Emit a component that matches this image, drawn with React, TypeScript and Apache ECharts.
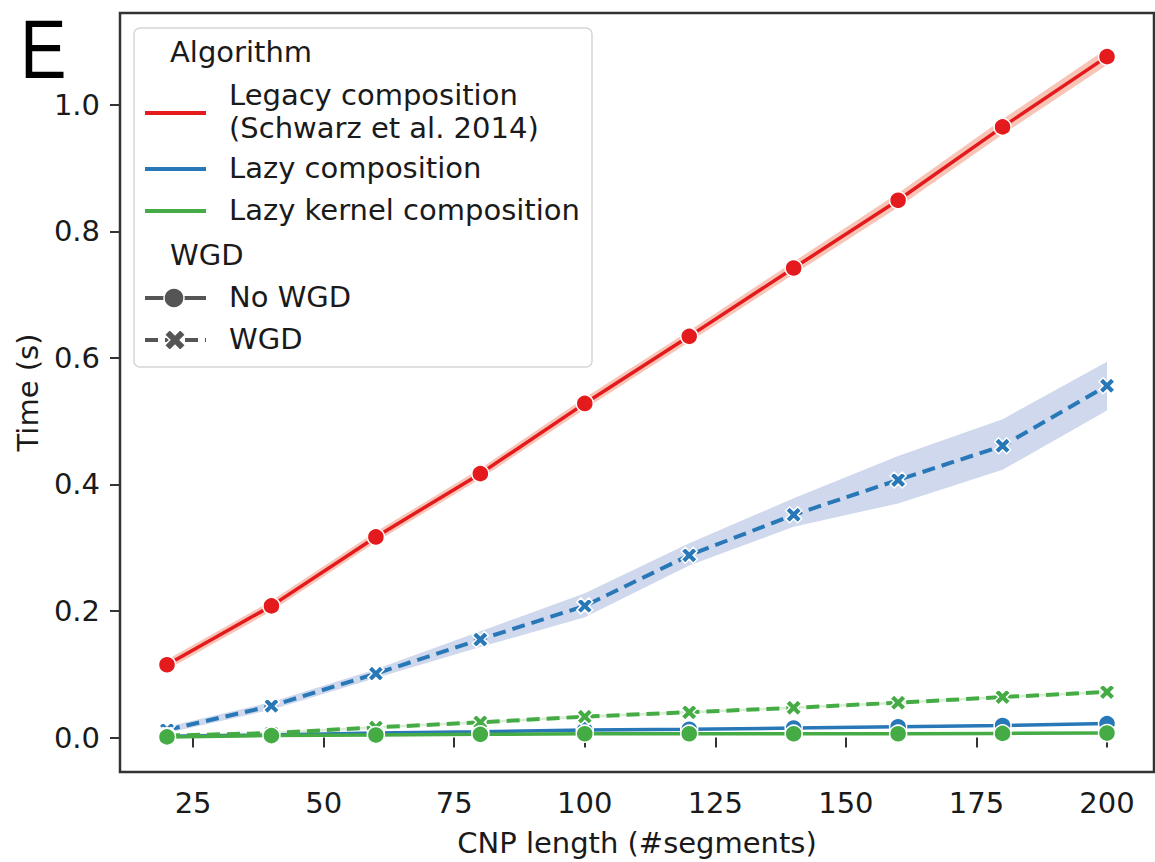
import React, { useEffect, useRef } from "react";
import * as echarts from "echarts";

const X = [20, 40, 60, 80, 100, 120, 140, 160, 180, 200];
const X_TICKS = [25, 50, 75, 100, 125, 150, 175, 200];
const Y_TICKS = [0, 0.2, 0.4, 0.6, 0.8, 1.0];

const legacyNoWGD = [0.115, 0.208, 0.317, 0.417, 0.528, 0.634, 0.742, 0.849, 0.965, 1.076];
const legacyLow = [0.107, 0.2, 0.309, 0.409, 0.519, 0.625, 0.732, 0.838, 0.953, 1.063];
const legacyHigh = [0.123, 0.216, 0.325, 0.425, 0.537, 0.643, 0.752, 0.86, 0.977, 1.089];

const lazyWGD = [0.012, 0.05, 0.101, 0.155, 0.208, 0.288, 0.352, 0.407, 0.461, 0.556];
const lazyWGDLow = [0.007, 0.044, 0.094, 0.143, 0.19, 0.272, 0.333, 0.37, 0.423, 0.517];
const lazyWGDHigh = [0.017, 0.056, 0.108, 0.168, 0.228, 0.307, 0.378, 0.445, 0.503, 0.594];
const lazyNoWGD = [0.002, 0.004, 0.007, 0.009, 0.012, 0.013, 0.015, 0.017, 0.019, 0.022];

const kernelWGD = [0.003, 0.007, 0.016, 0.024, 0.033, 0.04, 0.047, 0.055, 0.064, 0.072];
const kernelWGDLow = [0.001, 0.005, 0.014, 0.022, 0.031, 0.038, 0.045, 0.053, 0.062, 0.07];
const kernelWGDHigh = [0.005, 0.009, 0.018, 0.026, 0.035, 0.042, 0.049, 0.057, 0.066, 0.074];
const kernelNoWGD = [0.001, 0.003, 0.004, 0.005, 0.006, 0.006, 0.006, 0.006, 0.0065, 0.007];

const RED = "#e41a1c";
const BLUE = "#2878b8";
const GREEN = "#45ab45";
const FONT = '"DejaVu Sans", sans-serif';
const X_PATH = "path://M2.5 0L5 2.5L7.5 0L10 2.5L7.5 5L10 7.5L7.5 10L5 7.5L2.5 10L0 7.5L2.5 5L0 2.5Z";

function pairs(ys: number[]) {
  return X.map((x, i) => [x, ys[i]]);
}

function band(lo: number[], hi: number[], fill: string) {
  return {
    type: "custom",
    silent: true,
    z: 1,
    data: [[X[0], lo[0]]],
    renderItem: (_p: any, api: any) => {
      const pts: number[][] = [];
      for (let i = 0; i < X.length; i++) pts.push(api.coord([X[i], hi[i]]));
      for (let i = X.length - 1; i >= 0; i--) pts.push(api.coord([X[i], lo[i]]));
      return { type: "polygon", shape: { points: pts }, style: { fill } };
    },
  };
}

function lineSeries(ys: number[], color: string, dashed: boolean, z: number) {
  return {
    type: "line",
    data: pairs(ys),
    z,
    symbol: dashed ? X_PATH : "circle",
    symbolSize: dashed ? 16 : 17,
    showAllSymbol: true,
    lineStyle: { color, width: dashed ? 4 : 3.5, type: dashed ? [13, 7] : "solid" },
    itemStyle: { color, borderColor: "#ffffff", borderWidth: 1.5 },
  };
}

function xMarkerPoints(cx: number, cy: number, s: number) {
  const base = [[2.5, 0], [5, 2.5], [7.5, 0], [10, 2.5], [7.5, 5], [10, 7.5], [7.5, 10], [5, 7.5], [2.5, 10], [0, 7.5], [2.5, 5], [0, 2.5]];
  return base.map(([a, b]) => [cx + (a - 5) * s, cy + (b - 5) * s]);
}

export default function App() {
  const ref = useRef<HTMLDivElement>(null);
  useEffect(() => {
    if (!ref.current) return;
    const chart = echarts.init(ref.current, undefined, { renderer: "svg" });
    const txt = { fontFamily: FONT, fontSize: 29, fill: "#1a1a1a", verticalAlign: "middle" };
    chart.setOption({
      animation: false,
      backgroundColor: "#ffffff",
      grid: {
        left: 120,
        top: 13,
        width: 1034,
        height: 759,
        show: true,
        borderColor: "#333333",
        borderWidth: 2.5,
        backgroundColor: "transparent",
      },
      xAxis: {
        type: "value",
        min: 11,
        max: 209,
        name: "CNP length (#segments)",
        nameLocation: "middle",
        nameGap: 56,
        nameTextStyle: { fontFamily: FONT, fontSize: 29, color: "#1a1a1a" },
        axisLine: { show: false },
        splitLine: { show: false },
        axisTick: { show: true, length: 10, customValues: X_TICKS, lineStyle: { color: "#333", width: 2 } },
        axisLabel: {
          customValues: X_TICKS,
          fontFamily: FONT,
          fontSize: 29,
          color: "#1a1a1a",
          margin: 16,
          formatter: (v: number) => String(Math.round(v)),
        },
      },
      yAxis: {
        type: "value",
        min: -0.0545,
        max: 1.145,
        name: "Time (s)",
        nameLocation: "middle",
        nameRotate: 90,
        nameGap: 76,
        nameTextStyle: { fontFamily: FONT, fontSize: 29, color: "#1a1a1a" },
        axisLine: { show: false },
        splitLine: { show: false },
        axisTick: { show: true, length: 10, customValues: Y_TICKS, lineStyle: { color: "#333", width: 2 } },
        axisLabel: {
          customValues: Y_TICKS,
          fontFamily: FONT,
          fontSize: 29,
          color: "#1a1a1a",
          margin: 20,
          formatter: (v: number) => v.toFixed(1),
        },
      },
      series: [
        band(legacyLow, legacyHigh, "#f7c4b6"),
        lineSeries(legacyNoWGD, RED, false, 3),
        band(lazyWGDLow, lazyWGDHigh, "#cfd8ec"),
        lineSeries(lazyWGD, BLUE, true, 4),
        lineSeries(lazyNoWGD, BLUE, false, 4),
        band(kernelWGDLow, kernelWGDHigh, "#d8edd3"),
        lineSeries(kernelWGD, GREEN, true, 5),
        lineSeries(kernelNoWGD, GREEN, false, 5),
      ],
      graphic: [
        {
          type: "text",
          x: 20,
          y: 49,
          scaleX: 0.83,
          z: 100,
          style: {
            text: "E",
            fontFamily: '"Liberation Sans", Arial, sans-serif',
            fontSize: 84,
            lineHeight: 70,
            fill: "#000",
            verticalAlign: "middle",
          },
        },
        {
          type: "rect",
          z: 100,
          shape: { x: 134, y: 28, width: 458, height: 339, r: 6 },
          style: { fill: "rgba(255,255,255,0.85)", stroke: "#d6d6d6", lineWidth: 1.5 },
        },
        { type: "text", z: 101, x: 170, y: 52, style: { ...txt, text: "Algorithm" } },
        { type: "line", z: 101, shape: { x1: 145, y1: 113, x2: 206, y2: 113 }, style: { stroke: RED, lineWidth: 4 } },
        {
          type: "text",
          z: 101,
          x: 229,
          y: 111,
          style: { ...txt, text: "Legacy composition\n(Schwarz et al. 2014)", lineHeight: 33 },
        },
        { type: "line", z: 101, shape: { x1: 145, y1: 169, x2: 206, y2: 169 }, style: { stroke: BLUE, lineWidth: 4 } },
        { type: "text", z: 101, x: 229, y: 168, style: { ...txt, text: "Lazy composition" } },
        { type: "line", z: 101, shape: { x1: 145, y1: 211, x2: 206, y2: 211 }, style: { stroke: GREEN, lineWidth: 4 } },
        { type: "text", z: 101, x: 229, y: 210, style: { ...txt, text: "Lazy kernel composition" } },
        { type: "text", z: 101, x: 170, y: 255, style: { ...txt, text: "WGD" } },
        { type: "line", z: 101, shape: { x1: 145, y1: 298, x2: 206, y2: 298 }, style: { stroke: "#555555", lineWidth: 4 } },
        { type: "circle", z: 102, shape: { cx: 174, cy: 298, r: 10 }, style: { fill: "#555555", stroke: "#ffffff", lineWidth: 1.5 } },
        { type: "text", z: 101, x: 229, y: 297, style: { ...txt, text: "No WGD" } },
        {
          type: "line",
          z: 101,
          shape: { x1: 145, y1: 340, x2: 206, y2: 340 },
          style: { stroke: "#555555", lineWidth: 4, lineDash: [13, 7] },
        },
        {
          type: "polygon",
          z: 102,
          shape: { points: xMarkerPoints(175, 340, 2.1) },
          style: { fill: "#555555", stroke: "#ffffff", lineWidth: 1.5 },
        },
        { type: "text", z: 101, x: 229, y: 339, style: { ...txt, text: "WGD" } },
      ],
    });
    return () => chart.dispose();
  }, []);
  return (
    <div
      ref={ref}
      style={{ position: "fixed", left: 0, top: 0, width: 1155, height: 862, background: "#fff" }}
    />
  );
}
